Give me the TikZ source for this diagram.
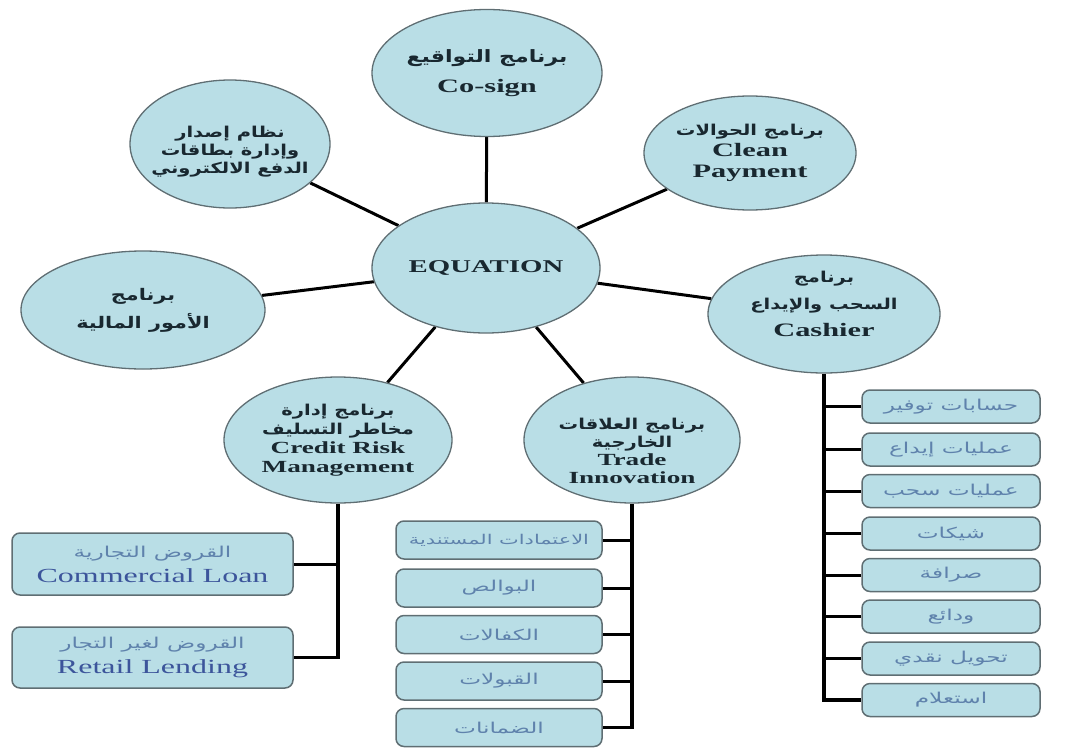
\documentclass[tikz,border=0pt]{standalone}
\usepackage{fontspec}
\setmainfont{Liberation Serif}
\newfontfamily\enw[FakeStretch=1.6]{Liberation Serif}
\newfontfamily\arw[Script=Arabic,FakeStretch=1.3]{DejaVu Sans}
\newfontfamily\arb[Script=Arabic,FakeStretch=1.55]{DejaVu Sans}
\TeXXeTstate=1
\usetikzlibrary{shapes.geometric,backgrounds}
\newcommand\arf[1]{\fontsize{#1}{#1}\arw}
\newcommand\arbf[1]{\fontsize{#1}{#1}\arb}
\newcommand\entx[2]{{\fontsize{#1}{#1}\enw #2}}
\definecolor{fillblue}{RGB}{185,222,230}
\definecolor{edgegray}{RGB}{95,110,115}
\definecolor{inktext}{RGB}{25,40,48}
\definecolor{boxink}{RGB}{60,85,155}
\definecolor{boxar}{RGB}{95,130,172}
\tikzset{
 bubble/.style={ellipse, draw=edgegray, line width=1.3pt, fill=fillblue, inner sep=-8pt, align=center, text=inktext},
 subbox/.style={rectangle, rounded corners=8pt, draw=edgegray, line width=1.5pt, fill=fillblue, inner sep=0pt, align=center, text=boxar},
 link/.style={line width=3pt, black},
 trunk/.style={line width=3.5pt, black},
}
\begin{document}
\begin{tikzpicture}[x=1pt,y=-1pt]
\useasboundingbox (0,0) rectangle (1070,747);
% bubbles
\node[bubble, minimum width=230pt, minimum height=127pt, font=\bfseries\fontsize{10}{30}\selectfont] (cosign) at (487,73) {{\arf{17}\beginR برنامج التواقيع\endR}\\ \entx{19}{Co-sign}};
\node[bubble, minimum width=200pt, minimum height=128pt, font=\bfseries\fontsize{10}{18}\selectfont] (card) at (230,144) {\rule{0pt}{27pt}{\arf{15}\beginR نظام إصدار\endR}\\ {\arf{15}\beginR وإدارة بطاقات\endR}\\ {\arf{15}\beginR الدفع الالكتروني\endR}};
\node[bubble, minimum width=212pt, minimum height=114pt, font=\bfseries\fontsize{10}{21}\selectfont] (clean) at (750,153) {{\arf{15}\beginR برنامج الحوالات\endR}\\ \entx{19}{Clean}\\ \entx{19}{Payment}};
\node[bubble, minimum width=228pt, minimum height=130pt, font=\bfseries\fontsize{10}{20}\selectfont] (eq) at (486,268) {\entx{18}{EQUATION}};
\node[bubble, minimum width=244pt, minimum height=118pt, font=\bfseries\fontsize{10}{28}\selectfont] (finance) at (143,310) {{\arf{16}\beginR برنامج\endR}\\ {\arf{16}\beginR الأمور المالية\endR}};
\node[bubble, minimum width=232pt, minimum height=118pt, font=\bfseries\fontsize{10}{27}\selectfont] (cashier) at (824,314) {{\arf{15}\beginR برنامج\endR}\\ {\arf{15}\beginR السحب والإيداع\endR}\\ \entx{19}{Cashier}\rule[-20pt]{0pt}{20pt}};
\node[bubble, minimum width=228pt, minimum height=126pt, font=\bfseries\fontsize{10}{19}\selectfont] (credit) at (338,440) {{\arf{15}\beginR برنامج إدارة\endR}\\ {\arf{15}\beginR مخاطر التسليف\endR}\\ \entx{17}{Credit Risk}\\ \entx{17}{Management}};
\node[bubble, minimum width=216pt, minimum height=126pt, font=\bfseries\fontsize{10}{18}\selectfont] (trade) at (632,440) {\rule{0pt}{33pt}{\arf{15}\beginR برنامج العلاقات\endR}\\ {\arf{15}\beginR الخارجية\endR}\\ \entx{17}{Trade}\\ \entx{17}{Innovation}};
% left boxes
\node[subbox, minimum width=281pt, minimum height=62pt, font=\fontsize{10}{25}\selectfont] (lb1) at (152.5,564) {{\arbf{15}\beginR القروض التجارية\endR}\\ \textcolor{boxink}{\entx{20}{Commercial Loan}}};
\node[subbox, minimum width=281pt, minimum height=61pt, font=\fontsize{10}{25}\selectfont] (lb2) at (152.5,657.5) {{\arbf{15}\beginR القروض لغير التجار\endR}\\ \textcolor{boxink}{\entx{20}{Retail Lending}}};
% middle boxes
\node[subbox, minimum width=206pt, minimum height=38pt] (mb1) at (499,540) {{\arbf{13.5}\beginR الاعتمادات المستندية\endR}};
\node[subbox, minimum width=206pt, minimum height=38pt] (mb2) at (499,588) {{\arbf{15}\beginR البوالص\endR}};
\node[subbox, minimum width=206pt, minimum height=38pt] (mb3) at (499,634.5) {{\arbf{15}\beginR الكفالات\endR}};
\node[subbox, minimum width=206pt, minimum height=38pt] (mb4) at (499,681) {{\arbf{15}\beginR القبولات\endR}};
\node[subbox, minimum width=206pt, minimum height=38pt] (mb5) at (499,727.5) {{\arbf{15}\beginR الضمانات\endR}};
% right boxes
\node[subbox, minimum width=178pt, minimum height=33pt] (rb1) at (951,406.5) {{\arbf{15}\beginR حسابات توفير\endR}};
\node[subbox, minimum width=178pt, minimum height=33pt] (rb2) at (951,449.5) {{\arbf{15}\beginR عمليات إيداع\endR}};
\node[subbox, minimum width=178pt, minimum height=33pt] (rb3) at (951,491) {{\arbf{15}\beginR عمليات سحب\endR}};
\node[subbox, minimum width=178pt, minimum height=33pt] (rb4) at (951,533.5) {{\arbf{15}\beginR شيكات\endR}};
\node[subbox, minimum width=178pt, minimum height=33pt] (rb5) at (951,575) {{\arbf{15}\beginR صرافة\endR}};
\node[subbox, minimum width=178pt, minimum height=33pt] (rb6) at (951,616.5) {{\arbf{15}\beginR ودائع\endR}};
\node[subbox, minimum width=178pt, minimum height=33pt] (rb7) at (951,658.5) {{\arbf{15}\beginR تحويل نقدي\endR}};
\node[subbox, minimum width=178pt, minimum height=33pt] (rb8) at (951,700) {{\arbf{15}\beginR استعلام\endR}};
\begin{scope}[on background layer]
\draw[link] (cosign) -- (eq);
\draw[link] (card) -- (eq);
\draw[link] (clean) -- (eq);
\draw[link] (finance) -- (eq);
\draw[link] (cashier) -- (eq);
\draw[link] (credit) -- (eq);
\draw[link] (trade) -- (eq);
\draw[trunk] (credit.south) -- (credit.south |- lb2.east) -- (lb2.east);
\draw[link] (lb1.east) -- (lb1.east -| credit.south);
\draw[trunk] (trade.south) -- (trade.south |- mb5.east) -- (mb5.east);
\foreach \b in {mb1,mb2,mb3,mb4} \draw[link] (\b.east) -- (\b.east -| trade.south);
\draw[trunk] (cashier.south) -- (cashier.south |- rb8.west) -- (rb8.west);
\foreach \b in {rb1,rb2,rb3,rb4,rb5,rb6,rb7} \draw[link] (\b.west) -- (\b.west -| cashier.south);
\end{scope}
\end{tikzpicture}
\end{document}
